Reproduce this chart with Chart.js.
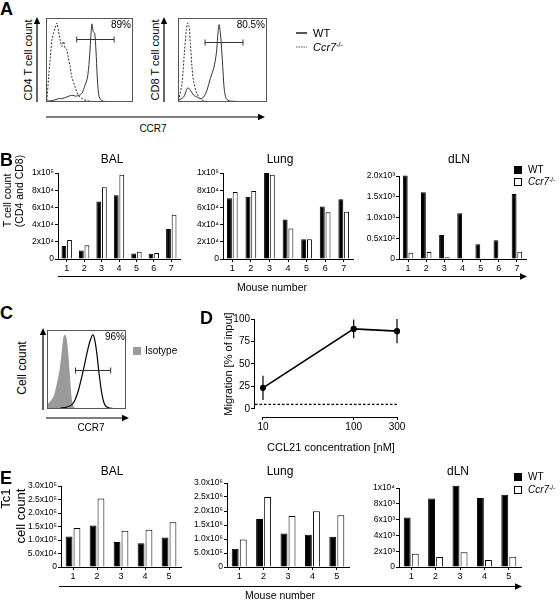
<!DOCTYPE html>
<html>
<head>
<meta charset="utf-8">
<script src="https://cdn.jsdelivr.net/npm/chart.js@4.4.1/dist/chart.umd.min.js"></script>
<style>
body { margin: 0; background: #fff; }
#fig { position: relative; width: 560px; height: 602px; overflow: hidden; background: #fff; }
#fig canvas { position: absolute; }
.lbl { position: absolute; white-space: nowrap; line-height: 1.12; color: #000;
	font-family: "Liberation Sans", Arial, sans-serif; }
.lbl sup { font-size: 65%; vertical-align: 0.5em; line-height: 0; }
.sq { position: absolute; width: 8px; height: 8px; box-sizing: border-box; }
</style>
</head>
<body>
<div id="fig">
	<canvas id="a1"></canvas>
	<canvas id="a2"></canvas>
	<canvas id="bBal"></canvas>
	<canvas id="bLung"></canvas>
	<canvas id="bDln"></canvas>
	<canvas id="cHist"></canvas>
	<canvas id="dMig"></canvas>
	<canvas id="eBal"></canvas>
	<canvas id="eLung"></canvas>
	<canvas id="eDln"></canvas>
</div>
<script>
// A: CCR7 histograms (channel 0-1000, % of max count)
var cd4KoX = [11, 30, 49, 68, 87, 106, 125, 144, 163, 182, 202, 220, 240, 258, 278, 296, 334, 372, 430, 505, 620, 1000];
var cd4KoY = [2, 30, 52, 74, 82, 88, 94, 84, 74, 66, 72, 64, 62, 52, 42, 30, 18, 8, 3, 1, 0.4, 0.4];
var cd4WtX = [11, 87, 144, 182, 240, 296, 353, 410, 448, 475, 498, 513, 528, 543, 559, 574, 589, 604, 620, 657, 734, 1000];
var cd4WtY = [1, 2, 4, 4, 6, 8, 7, 10, 20, 28, 50, 74, 93, 84, 82, 62, 30, 10, 4, 1, 0.4, 0.4];
var cd8KoX = [7, 45, 71, 94, 109, 124, 139, 157, 176, 213, 251, 307, 438, 1000];
var cd8KoY = [2, 22, 58, 86, 94, 90, 70, 42, 24, 10, 4, 1, 0.4, 0.4];
var cd8WtX = [7, 64, 94, 112, 139, 176, 213, 251, 288, 326, 363, 401, 431, 446, 461, 476, 491, 506, 521, 543, 588, 1000];
var cd8WtY = [2, 6, 14, 17, 14, 8, 6, 4, 6, 14, 28, 40, 58, 78, 92, 82, 62, 36, 14, 4, 1, 0.4];
var cd4Gate = [353, 783, 75];
var cd8Gate = [304, 730, 71];

// B: T cell counts per mouse
var mice7 = ['1', '2', '3', '4', '5', '6', '7'];
var balWtB = [15000, 10000, 67000, 74000, 6500, 6000, 35000];
var balKoB = [22000, 16000, 83500, 98000, 8500, 7000, 51500];
var lungWtB = [70500, 72500, 100000, 46000, 23000, 61000, 69500];
var lungKoB = [78000, 79000, 98000, 35500, 23000, 54500, 55000];
var dlnWtB = [2010, 1610, 580, 1100, 355, 450, 1565];
var dlnKoB = [150, 170, 40, 0, 0, 0, 175];
var tickB = [0, 20000, 40000, 60000, 80000, 100000];
var tickBLbl = ['0', '2x10⁴', '4x10⁴', '6x10⁴', '8x10⁴', '1x10⁵'];
var tickBDln = [0, 500, 1000, 1500, 2000];
var tickBDlnLbl = ['0', '0.5x10²', '1.0x10³', '1.5x10³', '2.0x10³'];

// C: CCR7 staining vs isotype
var isoX = [0, 42, 84, 126, 160, 189, 210, 231, 252, 273, 294, 315, 336, 378, 504];
var isoY = [5.5, 9.7, 16, 33, 50, 75, 92, 94, 87, 66, 37, 12, 3, 1, 0];
var ccr7X = [168, 252, 315, 357, 399, 441, 483, 525, 554, 580, 601, 630, 659, 693, 722, 756, 840, 998];
var ccr7Y = [1, 2.5, 5.5, 12, 24, 41, 60, 79, 89, 94, 89, 71, 45, 20, 7.6, 2.5, 0.4, 0];
var ccr7Gate = [361, 806, 50];

// D: migration towards CCL21
var concX = [10, 100, 300];
var migMean = [23.5, 89, 86.5];
var migErr = [13.5, 10.5, 13.5];
var migBase = 5.2;

// E: Tc1 counts per mouse
var mice5 = ['1', '2', '3', '4', '5'];
var balWtE = [113000, 154000, 93000, 88000, 109000];
var balKoE = [144000, 254000, 134000, 138000, 166000];
var lungWtE = [650000, 1710000, 1200000, 1150000, 1080000];
var lungKoE = [980000, 2500000, 1820000, 1990000, 1850000];
var dlnWtE = [6280, 8660, 10300, 8740, 9160];
var dlnKoE = [1670, 1260, 1880, 880, 1300];
var tickEBal = [0, 50000, 100000, 150000, 200000, 250000, 300000];
var tickEBalLbl = ['0', '5.0x10⁴', '1.0x10⁵', '1.5x10⁵', '2.0x10⁵', '2.5x10⁵', '3.0x10⁵'];
var tickELung = [0, 500000, 1000000, 1500000, 2000000, 2500000, 3000000];
var tickELungLbl = ['0', '5.0x10⁵', '1.0x10⁶', '1.5x10⁶', '2.0x10⁶', '2.5x10⁶', '3.0x10⁶'];
var tickEDln = [0, 2000, 4000, 6000, 8000, 10000];
var tickEDlnLbl = ['0', '2x10³', '4x10³', '6x10³', '8x10³', '1x10⁴'];

Chart.defaults.font.family = '"Liberation Sans", Arial, sans-serif';
Chart.defaults.color = '#000';
Chart.defaults.animation = false;

var fig = document.getElementById('fig');

function pts(xs, ys)
{
	return xs.map(function (x, i) { return {x: x, y: ys[i]}; });
}

function place(cv, box, pl, pt, pr, pb)
{
	cv.width = box.r - box.l + pl + pr;
	cv.height = box.b - box.t + pt + pb;
	cv.style.left = (box.l - pl) + 'px';
	cv.style.top = (box.t - pt) + 'px';
}

function histChart(id, box, datasets, gate)
{
	var cv = document.getElementById(id);
	place(cv, box, 2, 2, 2, 2);
	var frame = {
		id: 'frame',
		afterDatasetsDraw: function (chart) {
			var c = chart.ctx, a = chart.chartArea;
			var xs = chart.scales.x, ys = chart.scales.y;
			c.save();
			c.strokeStyle = '#555';
			c.lineWidth = 1;
			c.strokeRect(a.left + 0.5, a.top + 0.5, a.right - a.left - 1, a.bottom - a.top - 1);
			var x1 = xs.getPixelForValue(gate[0]), x2 = xs.getPixelForValue(gate[1]);
			var y = Math.round(ys.getPixelForValue(gate[2])) + 0.5;
			c.strokeStyle = '#333';
			c.beginPath();
			c.moveTo(x1, y); c.lineTo(x2, y);
			c.moveTo(x1, y - 3); c.lineTo(x1, y + 3);
			c.moveTo(x2, y - 3); c.lineTo(x2, y + 3);
			c.stroke();
			c.restore();
		}
	};
	return new Chart(cv, {
		type: 'line',
		data: {datasets: datasets},
		options: {
			responsive: false,
			layout: {padding: 2},
			plugins: {legend: {display: false}, tooltip: {enabled: false}},
			elements: {point: {radius: 0}, line: {tension: 0.3}},
			scales: {
				x: {type: 'linear', min: 0, max: 1000, display: false},
				y: {min: 0, max: 100, display: false}
			}
		},
		plugins: [frame]
	});
}

function barChart(id, box, cats, wt, ko, ticks, tickLbl, catPct)
{
	var cv = document.getElementById(id);
	var padL = 50, padT = 10, padR = 8, padB = 18;
	place(cv, box, padL, padT, padR, padB);
	return new Chart(cv, {
		type: 'bar',
		data: {
			labels: cats,
			datasets: [
				{label: 'WT', data: wt, backgroundColor: '#000', borderColor: '#000', borderWidth: 1, clip: false},
				{label: 'Ccr7-/-', data: ko, backgroundColor: '#fff', borderColor: '#000', borderWidth: 1, clip: false}
			]
		},
		options: {
			responsive: false,
			layout: {padding: {left: 0, top: padT, right: padR, bottom: 0}},
			plugins: {legend: {display: false}, tooltip: {enabled: false}},
			datasets: {bar: {categoryPercentage: catPct, barPercentage: 0.86}},
			scales: {
				x: {
					grid: {drawOnChartArea: false, offset: false, tickLength: 3, color: '#000'},
					border: {color: '#000'},
					ticks: {font: {size: 9}, padding: 1, maxRotation: 0, autoSkip: false},
					afterFit: function (s) { s.height = padB; }
				},
				y: {
					min: 0,
					max: ticks[ticks.length - 1],
					afterBuildTicks: function (s) { s.ticks = ticks.map(function (v) { return {value: v}; }); },
					grid: {drawOnChartArea: false, tickLength: 3, color: '#000'},
					border: {color: '#000'},
					ticks: {font: {size: 8.5}, padding: 1, callback: function (v, i) { return tickLbl[i]; }},
					afterFit: function (s) { s.width = padL; }
				}
			}
		}
	});
}

// A
histChart('a1', {l: 46, t: 18, r: 133, b: 102}, [
	{data: pts(cd4WtX, cd4WtY), borderColor: '#333', borderWidth: 1},
	{data: pts(cd4KoX, cd4KoY), borderColor: '#333', borderWidth: 1, borderDash: [2, 1.5]}
], cd4Gate);
histChart('a2', {l: 178, t: 18, r: 267, b: 102}, [
	{data: pts(cd8WtX, cd8WtY), borderColor: '#333', borderWidth: 1},
	{data: pts(cd8KoX, cd8KoY), borderColor: '#333', borderWidth: 1, borderDash: [2, 1.5]}
], cd8Gate);

// B
barChart('bBal', {l: 58, t: 173, r: 180, b: 259}, mice7, balWtB, balKoB, tickB, tickBLbl, 0.64);
barChart('bLung', {l: 223, t: 173, r: 353, b: 259}, mice7, lungWtB, lungKoB, tickB, tickBLbl, 0.62);
barChart('bDln', {l: 399, t: 176, r: 526, b: 259}, mice7, dlnWtB, dlnKoB, tickBDln, tickBDlnLbl, 0.62);

// C
histChart('cHist', {l: 47, t: 330, r: 126, b: 409}, [
	{data: pts(ccr7X, ccr7Y), borderColor: '#000', borderWidth: 1.2},
	{data: pts(isoX, isoY), borderWidth: 0, backgroundColor: '#9a9a9a', fill: 'origin'}
], ccr7Gate);

// D
(function ()
{
	var cv = document.getElementById('dMig');
	var box = {l: 254, t: 319, r: 397, b: 417};
	place(cv, box, 40, 8, 14, 16);
	var deco = {
		id: 'deco',
		beforeDatasetsDraw: function (chart) {
			var c = chart.ctx, a = chart.chartArea;
			var xs = chart.scales.x, ys = chart.scales.y;
			c.save();
			c.strokeStyle = '#000';
			c.lineWidth = 1;
			c.beginPath();
			c.moveTo(a.left + 0.5, ys.getPixelForValue(0));
			c.lineTo(a.left + 0.5, ys.getPixelForValue(100));
			c.moveTo(xs.getPixelForValue(concX[0]), a.bottom + 0.5);
			c.lineTo(xs.getPixelForValue(concX[concX.length - 1]), a.bottom + 0.5);
			c.stroke();
			c.setLineDash([2.5, 2]);
			c.lineWidth = 1.3;
			var yb = ys.getPixelForValue(migBase);
			c.beginPath();
			c.moveTo(a.left + 1, yb);
			c.lineTo(xs.getPixelForValue(concX[concX.length - 1]), yb);
			c.stroke();
			c.setLineDash([]);
			c.lineWidth = 1.2;
			c.beginPath();
			for (var i = 0; i < concX.length; i++) {
				var x = xs.getPixelForValue(concX[i]);
				c.moveTo(x, ys.getPixelForValue(migMean[i] - migErr[i]));
				c.lineTo(x, ys.getPixelForValue(migMean[i] + migErr[i]));
			}
			c.stroke();
			c.restore();
		}
	};
	new Chart(cv, {
		type: 'line',
		data: {
			datasets: [{
				data: pts(concX, migMean),
				borderColor: '#000',
				borderWidth: 1.6,
				pointRadius: 2.3,
				pointBackgroundColor: '#000',
				pointBorderColor: '#000',
				clip: false
			}]
		},
		options: {
			responsive: false,
			layout: {padding: {left: 0, top: 8, right: 14, bottom: 0}},
			plugins: {legend: {display: false}, tooltip: {enabled: false}},
			scales: {
				x: {
					type: 'logarithmic', min: 7.96, max: 300,
					afterBuildTicks: function (s) { s.ticks = concX.map(function (v) { return {value: v}; }); },
					grid: {drawOnChartArea: false, tickLength: 3, color: '#000'},
					border: {display: false},
					ticks: {font: {size: 10}, padding: 1, maxRotation: 0, callback: function (v) { return String(v); }},
					afterFit: function (s) { s.height = 16; }
				},
				y: {
					min: -8.9, max: 100,
					afterBuildTicks: function (s) { s.ticks = [0, 25, 50, 75, 100].map(function (v) { return {value: v}; }); },
					grid: {drawOnChartArea: false, tickLength: 3, color: '#000'},
					border: {display: false},
					ticks: {font: {size: 10}, padding: 1},
					afterFit: function (s) { s.width = 40; }
				}
			}
		},
		plugins: [deco]
	});
})();

// E
barChart('eBal', {l: 61, t: 486, r: 181, b: 567}, mice5, balWtE, balKoE, tickEBal, tickEBalLbl, 0.66);
barChart('eLung', {l: 227, t: 483, r: 349, b: 567}, mice5, lungWtE, lungKoE, tickELung, tickELungLbl, 0.66);
barChart('eDln', {l: 399, t: 488, r: 521, b: 567}, mice5, dlnWtE, dlnKoE, tickEDln, tickEDlnLbl, 0.66);

// text
function put(x, y, html, size, o)
{
	o = o || {};
	var d = document.createElement('div');
	d.className = 'lbl';
	d.innerHTML = html;
	d.style.left = x + 'px';
	d.style.top = y + 'px';
	d.style.fontSize = size + 'px';
	var t = 'translate(-50%,-50%)';
	if (o.left) t = 'translate(0,-50%)';
	if (o.right) t = 'translate(-100%,-50%)';
	if (o.rot) t += ' rotate(-90deg)';
	if (o.bold) d.style.fontWeight = 'bold';
	if (o.align) d.style.textAlign = o.align;
	d.style.transform = t;
	fig.appendChild(d);
}

function square(x, y, fill, border)
{
	var d = document.createElement('div');
	d.className = 'sq';
	d.style.left = x + 'px';
	d.style.top = y + 'px';
	d.style.background = fill;
	if (border) d.style.border = '1px solid #000';
	fig.appendChild(d);
}

var ko = '<i>Ccr7</i><sup>-/-</sup>';

put(0, 8.5, 'A', 18, {left: 1, bold: 1});
put(28, 60, 'CD4 T cell count', 11, {rot: 1});
put(155, 60, 'CD8 T cell count', 11, {rot: 1});
put(131, 25, '89%', 10, {right: 1});
put(265, 25, '80.5%', 10, {right: 1});
put(153, 129, 'CCR7', 10);
put(313, 33, 'WT', 11, {left: 1});
put(313, 47, ko, 11, {left: 1});

put(0, 160, 'B', 18, {left: 1, bold: 1});
put(14, 191, 'T cell count<br>(CD4 and CD8)', 10.5, {rot: 1});
put(112, 160, 'BAL', 12);
put(280, 160, 'Lung', 12);
put(459, 160, 'dLN', 12);
square(514, 166, '#000');
square(514, 178, '#fff', 1);
put(528, 170, 'WT', 10, {left: 1});
put(528, 182, ko, 10, {left: 1});
put(272, 288, 'Mouse number', 10.5);

put(0, 312.5, 'C', 18, {left: 1, bold: 1});
put(23, 368, 'Cell count', 12, {rot: 1});
put(125, 337, '96%', 10, {right: 1});
put(91, 428, 'CCR7', 10);
square(133, 347, '#9a9a9a');
put(145, 351, 'Isotype', 10, {left: 1});

put(200, 317.5, 'D', 18, {left: 1, bold: 1});
put(228, 364, 'Migration [% of input]', 11, {rot: 1});
put(331, 447, 'CCL21 concentration [nM]', 11);

put(0, 477.5, 'E', 18, {left: 1, bold: 1});
put(14, 516, 'Tc1<br>cell count', 13, {rot: 1, align: 'right'});
put(112, 472, 'BAL', 12);
put(280, 472, 'Lung', 12);
put(458, 472, 'dLN', 12);
square(514, 473, '#000');
square(514, 486, '#fff', 1);
put(528, 477, 'WT', 10, {left: 1});
put(528, 490, ko, 10, {left: 1});
put(280, 596, 'Mouse number', 10.5);

// arrows and legend strokes
function arrow(x1, y1, x2, y2)
{
	var dx = x2 - x1, dy = y2 - y1, len = Math.sqrt(dx * dx + dy * dy);
	var ux = dx / len, uy = dy / len, h = 7, w = 3.2;
	var bx = x2 - ux * h, by = y2 - uy * h;
	return '<line x1="' + x1 + '" y1="' + y1 + '" x2="' + bx + '" y2="' + by + '" stroke="#000" stroke-width="1.2"/>' +
		'<polygon points="' + x2 + ',' + y2 + ' ' + (bx - uy * w) + ',' + (by + ux * w) + ' ' + (bx + uy * w) + ',' + (by - ux * w) + '" fill="#000"/>';
}

var svg = '<svg width="560" height="602" style="position:absolute;left:0;top:0">';
svg += arrow(37, 102, 37, 17);
svg += arrow(164, 102, 164, 17);
svg += arrow(46, 117, 265, 117);
svg += arrow(58, 276.5, 527, 276.5);
svg += arrow(43, 410, 43, 328);
svg += arrow(46, 418, 129, 418);
svg += arrow(59, 586.5, 522, 586.5);
svg += '<line x1="296" y1="33" x2="307" y2="33" stroke="#555" stroke-width="2"/>';
svg += '<line x1="296" y1="47" x2="307" y2="47" stroke="#555" stroke-width="1" stroke-dasharray="1.5,1"/>';
svg += '</svg>';
fig.insertAdjacentHTML('beforeend', svg);
</script>
</body>
</html>
